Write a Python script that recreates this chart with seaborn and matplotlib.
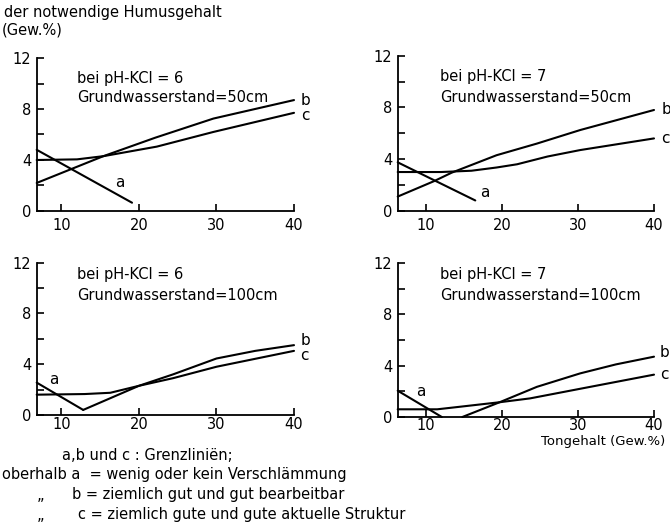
import matplotlib
matplotlib.use("Agg")
import matplotlib.pyplot as plt
import seaborn as sns
import pandas as pd

sns.set_theme(style="ticks")
plt.rcParams['font.family'] = ['DejaVu Sans']
plt.rcParams['text.color'] = 'black'

# ---------------- data ----------------
# top-left: pH-KCl = 6, Grundwasserstand 50 cm
tl_a_x = [6.8, 19.1]
tl_a_y = [4.8, 0.65]
tl_b_x = [6.8, 15.4, 22.1, 29.6, 40.0]
tl_b_y = [2.2, 4.3, 5.75, 7.25, 8.7]
tl_c_x = [6.8, 12.0, 15.4, 22.3, 29.6, 40.0]
tl_c_y = [4.0, 4.05, 4.3, 5.05, 6.2, 7.7]

# top-right: pH-KCl = 7, Grundwasserstand 50 cm
tr_a_x = [6.3, 16.5]
tr_a_y = [3.75, 0.8]
tr_b_x = [6.3, 11.1, 13.4, 19.3, 24.6, 30.3, 40.0]
tr_b_y = [1.1, 2.3, 2.95, 4.3, 5.2, 6.25, 7.8]
tr_c_x = [6.3, 12.0, 16.0, 19.3, 22.0, 26.0, 30.3, 40.0]
tr_c_y = [3.0, 3.0, 3.1, 3.35, 3.6, 4.2, 4.7, 5.6]

# bottom-left: pH-KCl = 6, Grundwasserstand 100 cm
bl_a_x = [6.8, 12.8]
bl_a_y = [2.55, 0.4]
bl_b_x = [12.8, 20.0, 24.4, 30.0, 35.0, 40.0]
bl_b_y = [0.4, 2.3, 3.2, 4.45, 5.05, 5.5]
bl_c_x = [6.8, 13.0, 16.3, 20.0, 24.4, 30.0, 40.0]
bl_c_y = [1.6, 1.65, 1.75, 2.3, 2.9, 3.8, 5.05]

# bottom-right: pH-KCl = 7, Grundwasserstand 100 cm
br_a_x = [6.3, 12.1]
br_a_y = [2.05, 0.0]
br_b_x = [14.8, 19.7, 24.6, 30.3, 35.0, 40.0]
br_b_y = [0.0, 1.15, 2.35, 3.4, 4.1, 4.7]
br_c_x = [6.3, 11.5, 14.5, 19.7, 23.7, 30.3, 40.0]
br_c_y = [0.6, 0.6, 0.8, 1.15, 1.45, 2.2, 3.3]

x_ticks = [10, 20, 30, 40]
y_ticks = [0, 2, 4, 6, 8, 10, 12]
y_ticklabels = ["0", "", "4", "", "8", "", "12"]

titles = [
    ("bei pH-KCl = 6", "Grundwasserstand=50cm"),
    ("bei pH-KCl = 7", "Grundwasserstand=50cm"),
    ("bei pH-KCl = 6", "Grundwasserstand=100cm"),
    ("bei pH-KCl = 7", "Grundwasserstand=100cm"),
]

W, H = 670, 531
fig = plt.figure(figsize=(W / 100, H / 100), dpi=100)
fig.patch.set_facecolor("white")

def fx(px):
    return px / W

def fy(py):
    return 1 - py / H

panels = [
    dict(rect=[fx(36.7), fy(211), fx(294) - fx(36.7), fy(58) - fy(211)], xlim=(6.8, 40),
         lines=[(tl_a_x, tl_a_y), (tl_b_x, tl_b_y), (tl_c_x, tl_c_y)],
         labels=[("a", 16.9, 2.2), ("b", 40.9, 8.7), ("c", 40.9, 7.5)],
         tpos=(77, 78, 97), xpad=5),
    dict(rect=[fx(397.7), fy(210.8), fx(654) - fx(397.7), fy(55.7) - fy(210.8)], xlim=(6.3, 40),
         lines=[(tr_a_x, tr_a_y), (tr_b_x, tr_b_y), (tr_c_x, tr_c_y)],
         labels=[("a", 17.1, 1.45), ("b", 41.0, 7.8), ("c", 41.0, 5.6)],
         tpos=(440, 77, 97), xpad=5),
    dict(rect=[fx(36.7), fy(415), fx(294) - fx(36.7), fy(262.6) - fy(415)], xlim=(6.8, 40),
         lines=[(bl_a_x, bl_a_y), (bl_b_x, bl_b_y), (bl_c_x, bl_c_y)],
         labels=[("a", 8.4, 2.8), ("b", 40.8, 5.9), ("c", 40.8, 4.7)],
         tpos=(77, 275, 295), xpad=1.5),
    dict(rect=[fx(397.7), fy(417), fx(654) - fx(397.7), fy(263) - fy(417)], xlim=(6.3, 40),
         lines=[(br_a_x, br_a_y), (br_b_x, br_b_y), (br_c_x, br_c_y)],
         labels=[("a", 8.7, 1.95), ("b", 40.8, 5.0), ("c", 40.8, 3.3)],
         tpos=(440, 275, 295), xpad=0.5),
]

for p, (t1, t2) in zip(panels, titles):
    ax = fig.add_axes(p["rect"])
    for xs, ys in p["lines"]:
        df = pd.DataFrame({"x": xs, "y": ys})
        sns.lineplot(data=df, x="x", y="y", ax=ax, color="black", linewidth=1.5,
                     sort=False, estimator=None, clip_on=False)
    ax.set_xlim(*p["xlim"])
    ax.set_ylim(0, 12)
    ax.set_xticks(x_ticks)
    ax.set_xticklabels([str(t) for t in x_ticks])
    ax.set_yticks(y_ticks)
    ax.set_yticklabels(y_ticklabels)
    ax.set_xlabel("")
    ax.set_ylabel("")
    for s in ["top", "right"]:
        ax.spines[s].set_visible(False)
    for s in ["left", "bottom"]:
        ax.spines[s].set_linewidth(1.3)
        ax.spines[s].set_color("black")
    ax.tick_params(axis="x", direction="in", length=5, width=1.2, pad=p["xpad"],
                   labelsize=10.5, colors="black")
    ax.tick_params(axis="y", direction="in", length=5, width=1.2, pad=4,
                   labelsize=10.5, colors="black")
    ax.set_facecolor("white")
    for lab, lx, ly in p["labels"]:
        ax.text(lx, ly, lab, fontsize=11, ha="left", va="center", clip_on=False)
    tx, ty1, ty2 = p["tpos"]
    fig.text(fx(tx), fy(ty1), t1, fontsize=10.5, ha="left", va="center")
    fig.text(fx(tx), fy(ty2), t2, fontsize=10.5, ha="left", va="center")

# axis titles and legend text
fig.text(fx(4), fy(12), "der notwendige Humusgehalt", fontsize=10.5, ha="left", va="center")
fig.text(fx(2), fy(30), "(Gew.%)", fontsize=10.5, ha="left", va="center")
fig.text(fx(541), fy(441), "Tongehalt (Gew.%)", fontsize=9.5, ha="left", va="center")

fig.text(fx(62), fy(456), "a,b und c : Grenzliniën;", fontsize=10.5, ha="left", va="center")
fig.text(fx(2), fy(475), "oberhalb a  = wenig oder kein Verschlämmung", fontsize=10.5,
         ha="left", va="center")
fig.text(fx(37), fy(496), "„", fontsize=10.5, ha="left", va="center")
fig.text(fx(72), fy(495), "b = ziemlich gut und gut bearbeitbar", fontsize=10.5,
         ha="left", va="center")
fig.text(fx(37), fy(516), "„", fontsize=10.5, ha="left", va="center")
fig.text(fx(78), fy(515), "c = ziemlich gute und gute aktuelle Struktur", fontsize=10.5,
         ha="left", va="center")

fig.savefig("out.png", dpi=100, facecolor="white")
